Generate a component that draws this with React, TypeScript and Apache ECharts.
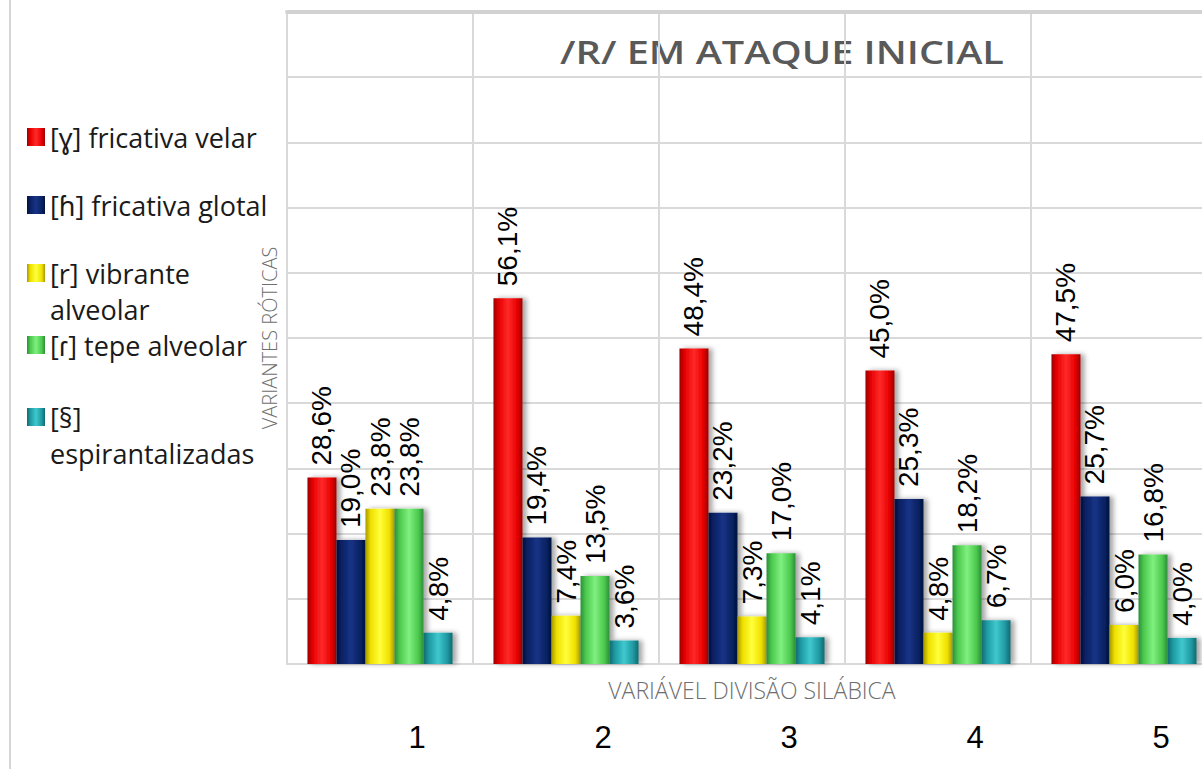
import React, { useEffect, useRef } from "react";
import * as echarts from "echarts";

const categories = ["1", "2", "3", "4", "5"];
const seriesNames = [
  "[ɣ] fricativa velar",
  "[ɦ] fricativa glotal",
  "[r] vibrante alveolar",
  "[ɾ] tepe alveolar",
  "[§] espirantalizadas",
];
const legendDisplay = [
  "[ɣ] fricativa velar",
  "[ɦ] fricativa glotal",
  "\n[r] vibrante\nalveolar",
  "[ɾ] tepe alveolar",
  "\n[§]\nespirantalizadas",
];
const velar = [28.6, 56.1, 48.4, 45.0, 47.5];
const glotal = [19.0, 19.4, 23.2, 25.3, 25.7];
const vibrante = [23.8, 7.4, 7.3, 4.8, 6.0];
const tepe = [23.8, 13.5, 17.0, 18.2, 16.8];
const espirantalizadas = [4.8, 3.6, 4.1, 6.7, 4.0];
const seriesValues = [velar, glotal, vibrante, tepe, espirantalizadas];

const title = "/R/ EM ATAQUE INICIAL";
const xName = "VARIÁVEL DIVISÃO SILÁBICA";
const yName = "VARIANTES RÓTICAS";

// [edge, base, highlight]
const palettes = [
  ["#9a0000", "#e60000", "#ff2a2a"],
  ["#00133d", "#0a2263", "#173386"],
  ["#a89800", "#efe000", "#ffff3a"],
  ["#2c8f37", "#4cc94e", "#7ff07f"],
  ["#12686e", "#1e98a1", "#40c8cf"],
];

function grad(p: string[]) {
  return new echarts.graphic.LinearGradient(0, 0, 1, 0, [
    { offset: 0, color: p[0] },
    { offset: 0.18, color: p[1] },
    { offset: 0.5, color: p[2] },
    { offset: 0.82, color: p[1] },
    { offset: 1, color: p[0] },
  ]);
}

export default function App() {
  const ref = useRef<HTMLDivElement>(null);
  useEffect(() => {
    if (!ref.current) return;
    const chart = echarts.init(ref.current, null, { renderer: "svg" });
    const L = 36;
    const paddings = [
      [L, 0, L, 0],
      [L, 0, L, 0],
      [0, 0, 0, 0],
      [L + 4, 0, L + 4, 0],
      [0, 0, 0, 0],
    ];
    chart.setOption({
      animation: false,
      backgroundColor: "#ffffff",
      graphic: [
        {
          type: "line",
          shape: { x1: 10, y1: 0, x2: 10, y2: 769 },
          style: { stroke: "#d6d6d6", lineWidth: 2 },
        },
        {
          type: "text",
          x: 782,
          y: 52,
          scaleX: 1.24,
          style: {
            text: title,
            fontFamily: "'Open Sans', 'Noto Sans', sans-serif",
            fontWeight: 600,
            fontSize: 32,
            fill: "#595959",
            align: "center",
            verticalAlign: "middle",
          },
        },
      ],
      legend: {
        orient: "vertical",
        left: 22,
        top: 78,
        itemWidth: 18,
        itemHeight: 18,
        itemGap: -40,
        icon: "rect",
        data: seriesNames.map((n, i) => ({
          name: n,
          textStyle: { padding: paddings[i] },
        })),
        formatter: (name: string) => legendDisplay[seriesNames.indexOf(name)],
        textStyle: {
          fontFamily: "'Open Sans', 'Noto Sans', 'DejaVu Sans', sans-serif",
          fontSize: 27,
          lineHeight: L,
          color: "#1a1a1a",
        },
      },
      grid: {
        left: 287,
        top: 12,
        width: 930,
        height: 652,
        outerBoundsMode: "none",
        containLabel: false,
      },
      xAxis: [
        {
          type: "category",
          data: categories,
          name: xName,
          nameLocation: "middle",
          nameGap: 14,
          nameMoveOverlap: false,
          nameTextStyle: {
            fontFamily: "'Open Sans', sans-serif",
            fontWeight: 300,
            fontSize: 23,
            color: "#6e6e6e",
            verticalAlign: "top",
          },
          axisTick: { show: false },
          axisLine: { show: true, lineStyle: { color: "#d9d9d9", width: 2 } },
          axisLabel: {
            margin: 58,
            fontFamily: "'Liberation Sans', Arial, sans-serif",
            fontSize: 31,
            color: "#000000",
            padding: [0, 0, 0, 74],
          },
          splitLine: { show: true, lineStyle: { color: "#d9d9d9", width: 2 } },
        },
        {
          type: "category",
          data: categories,
          position: "top",
          axisTick: { show: false },
          axisLabel: { show: false },
          axisLine: { show: true, lineStyle: { color: "#d2d2d2", width: 4 } },
        },
      ],
      yAxis: {
        type: "value",
        min: 0,
        max: 100,
        interval: 10,
        name: yName,
        nameLocation: "middle",
        nameGap: 8,
        nameMoveOverlap: false,
        nameTextStyle: {
          fontFamily: "'Open Sans', sans-serif",
          fontWeight: 300,
          fontSize: 20,
          color: "#6e6e6e",
        },
        axisLabel: { show: false },
        axisTick: { show: false },
        axisLine: { show: false },
        splitLine: { show: true, lineStyle: { color: "#d9d9d9", width: 2 } },
      },
      series: seriesNames.map((name, i) => ({
        name,
        type: "bar",
        data: seriesValues[i],
        barGap: "0%",
        barCategoryGap: "22%",
        itemStyle: {
          color: grad(palettes[i]),
          shadowColor: "rgba(0,0,0,0.35)",
          shadowBlur: 5,
          shadowOffsetX: 4,
          shadowOffsetY: 0,
        },
        label: {
          show: true,
          position: "top",
          distance: 12,
          rotate: 90,
          align: "left",
          verticalAlign: "middle",
          fontFamily: "'Liberation Sans', Arial, sans-serif",
          fontSize: 28,
          color: "#000000",
          formatter: (p: any) => p.value.toFixed(1).replace(".", ",") + "%",
        },
      })),
    });
    return () => chart.dispose();
  }, []);
  return (
    <div
      ref={ref}
      style={{ position: "absolute", left: 0, top: 0, width: 1202, height: 769 }}
    />
  );
}
